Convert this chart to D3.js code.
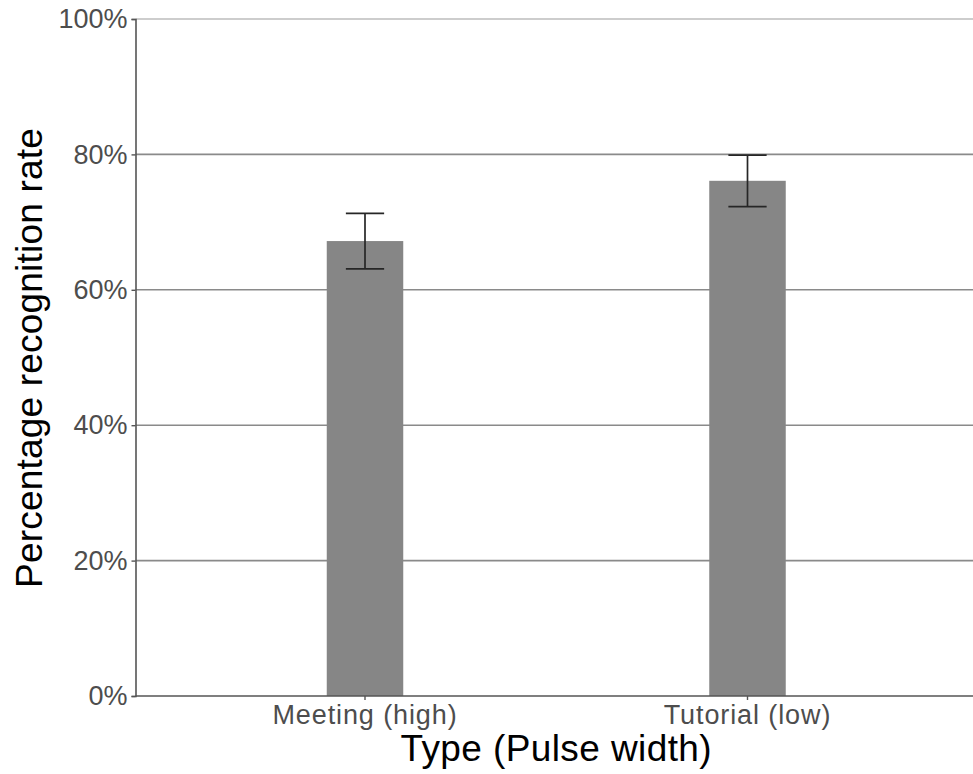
<!DOCTYPE html>
<html>
<head>
<meta charset="utf-8">
<script src="https://cdn.jsdelivr.net/npm/d3@7"></script>
<style>
  html, body { margin: 0; padding: 0; background: #fff; }
  svg { display: block; }
</style>
</head>
<body>
<svg id="chart" width="973" height="774"></svg>
<script>
// Recognition rate by meeting type, with error bars
const categories = ["Meeting (high)", "Tutorial (low)"];
const rates      = [0.672, 0.761];
const errLow     = [0.631, 0.723];
const errHigh    = [0.713, 0.799];
const yTicks     = [0, 0.2, 0.4, 0.6, 0.8, 1.0];

const svg = d3.select("#chart");
const font = "'Liberation Sans', Arial, sans-serif";

const plotLeft = 135.5, plotRight = 977, plotTop = 19, plotBottom = 696;

// discrete x scale with 0.6 unit padding on each side, bars 0.2 units wide
const xIdx = d3.scaleLinear().domain([0.4, categories.length + 0.6]).range([plotLeft, plotRight]);
const x = c => xIdx(categories.indexOf(c) + 1);
const unit = xIdx(2) - xIdx(1);
const barW = unit * 0.2;
const capW = barW * 0.5;

const y = d3.scaleLinear().domain([0, 1]).range([plotBottom, plotTop]);

// horizontal gridlines
svg.append("g")
  .selectAll("line")
  .data(yTicks.filter(t => t > 0))
  .join("line")
  .attr("x1", plotLeft).attr("x2", plotRight)
  .attr("y1", d => y(d)).attr("y2", d => y(d))
  .attr("stroke", d => d === 1 ? "#bdbdbd" : "#8a8a8a")
  .attr("stroke-width", 1.6);

// bars
svg.append("g")
  .selectAll("rect")
  .data(categories)
  .join("rect")
  .attr("x", d => x(d) - barW / 2)
  .attr("width", barW)
  .attr("y", (d, i) => y(rates[i]))
  .attr("height", (d, i) => y(0) - y(rates[i]))
  .attr("fill", "#868686");

// error bars
const eb = svg.append("g").attr("stroke", "#262626").attr("stroke-width", 1.7);
categories.forEach((c, i) => {
  const cx = x(c);
  eb.append("line").attr("x1", cx).attr("x2", cx).attr("y1", y(errLow[i])).attr("y2", y(errHigh[i]));
  eb.append("line").attr("x1", cx - capW / 2).attr("x2", cx + capW / 2).attr("y1", y(errHigh[i])).attr("y2", y(errHigh[i]));
  eb.append("line").attr("x1", cx - capW / 2).attr("x2", cx + capW / 2).attr("y1", y(errLow[i])).attr("y2", y(errLow[i]));
});

// y axis
const yAxis = svg.append("g")
  .attr("transform", `translate(${plotLeft},0)`)
  .call(d3.axisLeft(y).tickValues(yTicks).tickFormat(d3.format(".0%")).tickSize(4).tickPadding(4));
yAxis.select(".domain").attr("stroke", "#555").attr("stroke-width", 1.6);
yAxis.selectAll(".tick line").attr("stroke", "#555").attr("stroke-width", 1.4);
yAxis.selectAll(".tick text")
  .attr("fill", "#4d4d4d").attr("font-family", font).attr("font-size", 27);

// x axis
const xAxis = svg.append("g")
  .attr("transform", `translate(0,${plotBottom})`);
xAxis.append("line").attr("x1", plotLeft).attr("x2", plotRight)
  .attr("stroke", "#555").attr("stroke-width", 1.6);
categories.forEach(c => {
  xAxis.append("line").attr("x1", x(c)).attr("x2", x(c)).attr("y1", 0).attr("y2", 4)
    .attr("stroke", "#555").attr("stroke-width", 1.4);
  xAxis.append("text").attr("x", x(c)).attr("y", 27.5)
    .attr("text-anchor", "middle").attr("fill", "#4d4d4d")
    .attr("font-family", font).attr("font-size", 27)
    .attr("letter-spacing", 0.9).text(c);
});

// axis titles
svg.append("text")
  .attr("x", (plotLeft + plotRight) / 2).attr("y", 761)
  .attr("text-anchor", "middle").attr("fill", "#000")
  .attr("font-family", font).attr("font-size", 37)
  .attr("letter-spacing", 0.4)
  .text("Type (Pulse width)");

svg.append("text")
  .attr("transform", `translate(42,358) rotate(-90)`)
  .attr("text-anchor", "middle").attr("fill", "#000")
  .attr("font-family", font).attr("font-size", 37)
  .attr("letter-spacing", 0.2)
  .text("Percentage recognition rate");
</script>
</body>
</html>
